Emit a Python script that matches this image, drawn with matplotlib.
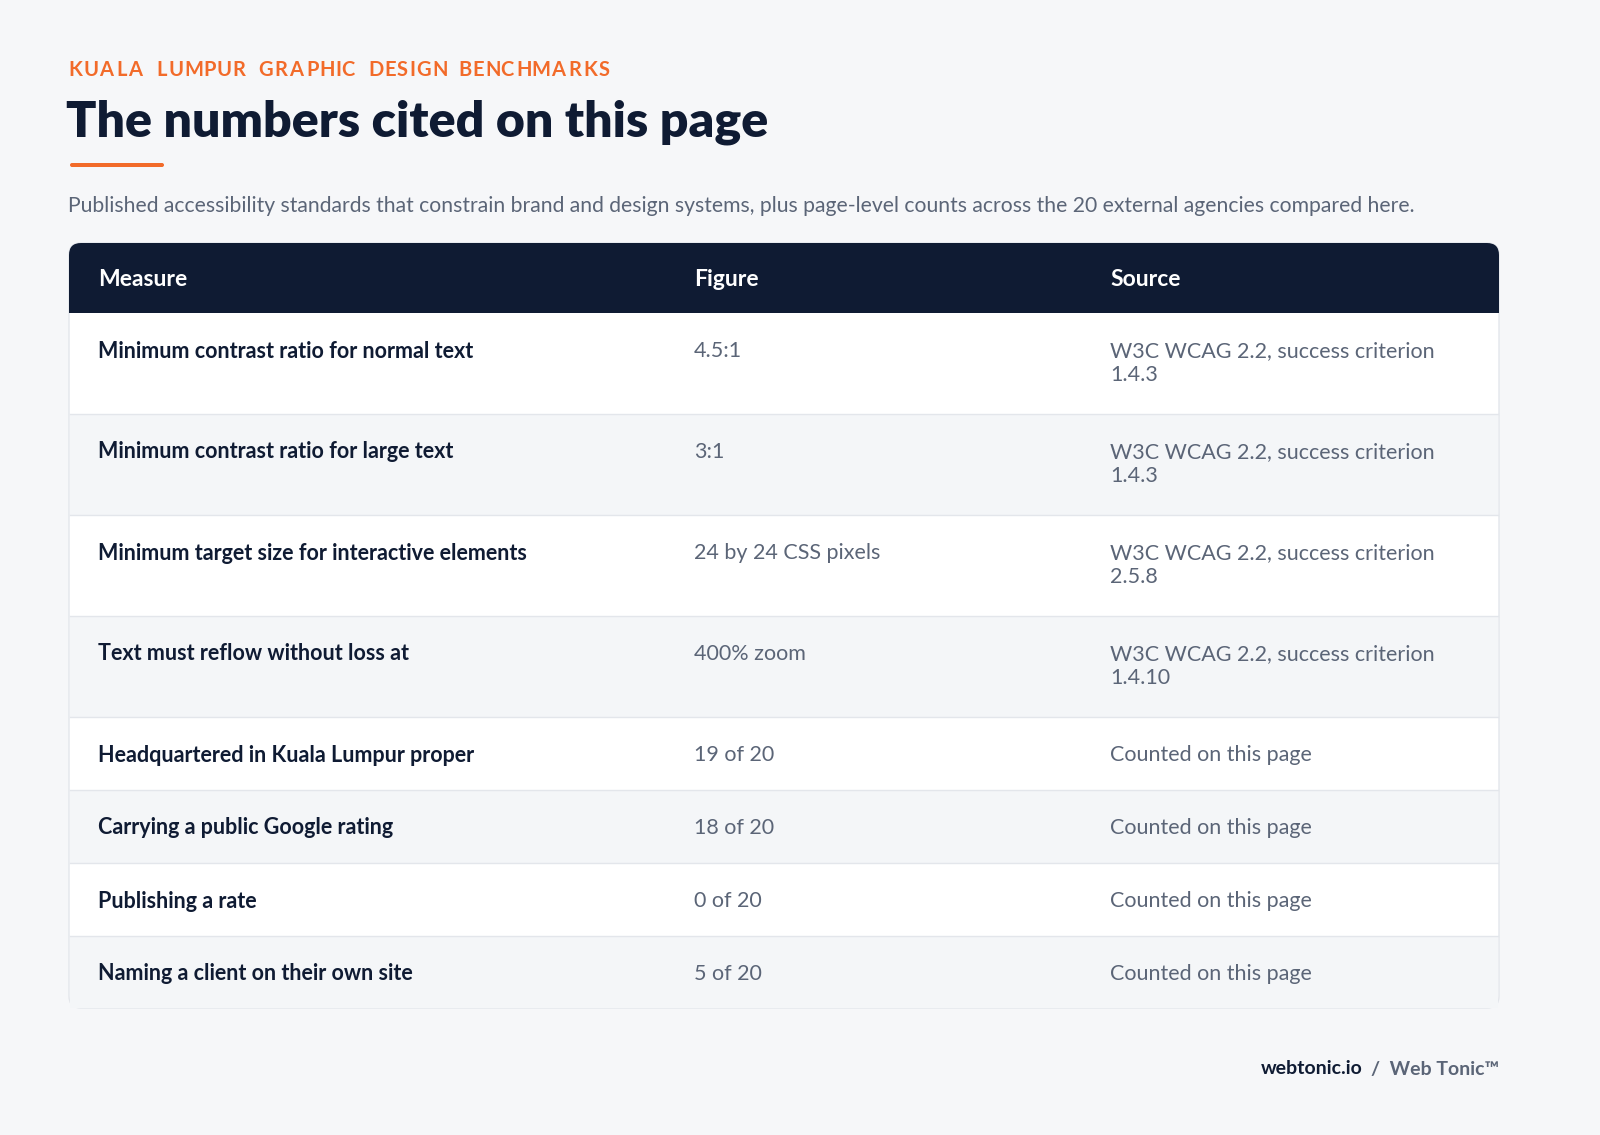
import matplotlib
matplotlib.use("Agg")
import matplotlib.pyplot as plt
from matplotlib.patches import FancyBboxPatch, Rectangle
from matplotlib.textpath import TextPath
from matplotlib.font_manager import FontProperties
import textwrap

eyebrow = "KUALA LUMPUR GRAPHIC DESIGN BENCHMARKS"
title = "The numbers cited on this page"
subtitle = ("Published accessibility standards that constrain brand and design systems, "
            "plus page-level counts across the 20 external agencies compared here.")
headers = ["Measure", "Figure", "Source"]
measures = ["Minimum contrast ratio for normal text", "Minimum contrast ratio for large text",
            "Minimum target size for interactive elements", "Text must reflow without loss at",
            "Headquartered in Kuala Lumpur proper", "Carrying a public Google rating",
            "Publishing a rate", "Naming a client on their own site"]
figures = ["4.5:1", "3:1", "24 by 24 CSS pixels", "400% zoom", "19 of 20", "18 of 20", "0 of 20", "5 of 20"]
sources = ["W3C WCAG 2.2, success criterion 1.4.3", "W3C WCAG 2.2, success criterion 1.4.3",
           "W3C WCAG 2.2, success criterion 2.5.8", "W3C WCAG 2.2, success criterion 1.4.10",
           "Counted on this page", "Counted on this page", "Counted on this page", "Counted on this page"]

NAVY = "#0f1b33"; ORANGE = "#f26b2a"; GREY = "#5b6577"; BG = "#f6f7f9"
fig = plt.figure(figsize=(16, 11.35), dpi=100, facecolor=BG)
ax = fig.add_axes([0, 0, 1, 1]); ax.set_xlim(0, 1600); ax.set_ylim(1135, 0); ax.axis("off")
F = "Lato"

# eyebrow with tracking
fp = FontProperties(family=F, weight="bold", size=14.5)
x = 68
for ch in eyebrow:
    ax.text(x, 70, ch, fontproperties=fp, color=ORANGE, va="center", ha="left")
    w = TextPath((0, 0), ch if ch != " " else "n", prop=fp).get_extents().width if ch != " " else 5.5
    x += (w if ch != " " else 5.5) * 100 / 72 + 3.3
ax.text(66, 122, title, family=F, weight="heavy", fontsize=36, color=NAVY, va="center")
ax.add_patch(FancyBboxPatch((70, 163), 94, 4, boxstyle="round,pad=0,rounding_size=2", color=ORANGE, lw=0))
ax.text(68, 206, subtitle, family=F, fontsize=15.2, color=GREY, va="center")

L, R = 69, 1499
row_h = [101, 101, 101, 101, 73, 73, 73, 72]
top = 243
ax.add_patch(FancyBboxPatch((L, top), R - L, 313 - top + sum(row_h), boxstyle="round,pad=0,rounding_size=12",
                            fc="white", ec="#e3e6eb", lw=1, zorder=1))
ax.add_patch(FancyBboxPatch((L, top), R - L, 70, boxstyle="round,pad=0,rounding_size=12", fc=NAVY, lw=0, zorder=2))
ax.add_patch(Rectangle((L, top + 40), R - L, 30, fc=NAVY, lw=0, zorder=2))
colx = [98, 694, 1110]
for cx, h in zip(colx, headers):
    ax.text(cx, 279, h, family=F, weight="bold", fontsize=16.5, color="white", va="center", zorder=3)
y = 313
for i, (m, f, s) in enumerate(zip(measures, figures, sources)):
    h = row_h[i]
    if i % 2 == 1:
        ax.add_patch(Rectangle((L + 1, y), R - L - 2, h, fc="#f4f6f8", lw=0, zorder=1.5))
    if i > 0:
        ax.plot([L + 1, R - 1], [y, y], color="#e3e6eb", lw=1, zorder=1.6)
    ty = y + 38
    ax.text(colx[0], ty, m, family=F, weight="bold", fontsize=15.5, color=NAVY, va="center", zorder=3)
    ax.text(colx[1], ty, f, family=F, fontsize=15.5, color=GREY, va="center", zorder=3)
    ax.text(colx[2], ty - 10, "\n".join(textwrap.wrap(s, 32)), family=F, fontsize=15.5, color=GREY,
            va="top", linespacing=1.25, zorder=3)
    y += h

t2 = ax.text(1499, 1069, "/  Web Tonic™", family=F, weight="bold", fontsize=14, color=GREY, ha="right", va="center")
ax.text(1363, 1069, "webtonic.io", family=F, weight="bold", fontsize=14, color=NAVY, ha="right", va="center")
fig.savefig("out.png", dpi=100, facecolor=BG)
